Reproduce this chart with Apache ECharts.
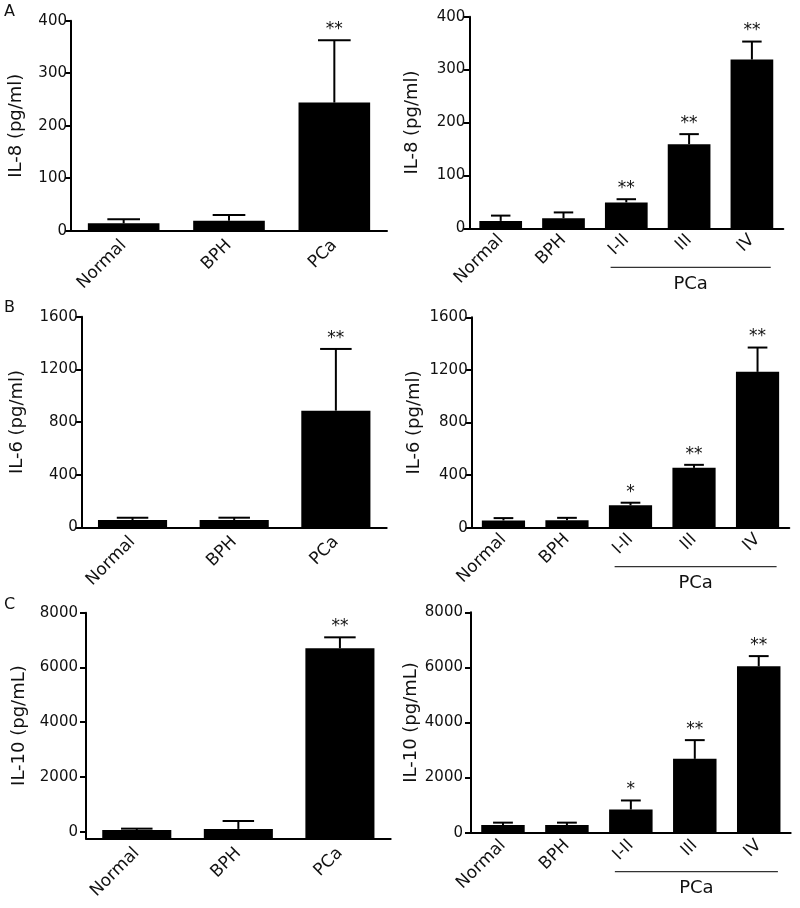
<!DOCTYPE html>
<html><head><meta charset="utf-8">
<script src="https://cdn.jsdelivr.net/npm/echarts@6/dist/echarts.min.js"></script>
<style>html,body{margin:0;padding:0;background:#fff}#c{width:800px;height:908px}</style>
</head><body><div id="c"></div>
<script>
// ---------- data ----------
const catsGroup = ['Normal', 'BPH', 'PCa'];
const catsStage = ['Normal', 'BPH', 'I-II', 'III', 'IV'];

const il8GroupMean = [14, 19, 244];
const il8GroupSem = [8, 11, 119];
const il8GroupSig = ['', '', '**'];
const il8StageMean = [14, 19, 49, 159, 319];
const il8StageSem = [10, 11, 6, 19, 34];
const il8StageSig = ['', '', '**', '**', '**'];

const il6GroupMean = [55, 55, 886];
const il6GroupSem = [18, 18, 469];
const il6GroupSig = ['', '', '**'];
const il6StageMean = [55, 57, 170, 455, 1185];
const il6StageSem = [18, 18, 20, 23, 185];
const il6StageSig = ['', '', '*', '**', '**'];

const il10GroupMean = [62, 100, 6700];
const il10GroupSem = [48, 290, 400];
const il10GroupSig = ['', '', '**'];
const il10StageMean = [275, 275, 840, 2680, 6040];
const il10StageSem = [90, 90, 330, 680, 370];
const il10StageSig = ['', '', '*', '**', '**'];

const ticksIL8 = [0, 100, 200, 300, 400];
const ticksIL6 = [0, 400, 800, 1200, 1600];
const ticksIL10 = [0, 2000, 4000, 6000, 8000];

const nameIL8 = 'IL-8 (pg/ml)';
const nameIL6 = 'IL-6 (pg/ml)';
const nameIL10 = 'IL-10 (pg/mL)';
const groupLabel = 'PCa';
const panelLetters = ['A', 'B', 'C'];

// ---------- layout / style ----------
const FONT = 'DejaVu Sans';
const panels = [
  {cats: catsGroup, mean: il8GroupMean, sem: il8GroupSem, sig: il8GroupSig, ticks: ticksIL8, name: nameIL8,
   grid: {left: 71, top: 20.7, width: 316, height: 210}, yMin: 0, nameGap: 46, labMargin: 4, catMargin: 12},
  {cats: catsStage, mean: il8StageMean, sem: il8StageSem, sig: il8StageSig, ticks: ticksIL8, name: nameIL8,
   grid: {left: 469.3, top: 16.7, width: 314, height: 211.6}, yMin: 0, nameGap: 48, labMargin: 4, catMargin: 9, group: true},
  {cats: catsGroup, mean: il6GroupMean, sem: il6GroupSem, sig: il6GroupSig, ticks: ticksIL6, name: nameIL6,
   grid: {left: 81.7, top: 316.7, width: 305, height: 210.6}, yMin: 0, nameGap: 55, labMargin: 4, catMargin: 12},
  {cats: catsStage, mean: il6StageMean, sem: il6StageSem, sig: il6StageSig, ticks: ticksIL6, name: nameIL6,
   grid: {left: 471.7, top: 317.3, width: 317.6, height: 210.4}, yMin: 0, nameGap: 48, labMargin: 4, catMargin: 9, group: true},
  {cats: catsGroup, mean: il10GroupMean, sem: il10GroupSem, sig: il10GroupSig, ticks: ticksIL10, name: nameIL10,
   grid: {left: 86, top: 612.7, width: 304.7, height: 225.8}, yMin: -250, nameGap: 58, labMargin: 8, catMargin: 12},
  {cats: catsStage, mean: il10StageMean, sem: il10StageSem, sig: il10StageSig, ticks: ticksIL10, name: nameIL10,
   grid: {left: 471, top: 612.3, width: 319.7, height: 220.4}, yMin: 0, nameGap: 51, labMargin: 8, catMargin: 10, group: true}
];

const BAR_FRAC = 0.68;

// error bars (+ optional bar body when the axis starts below zero), drawn through the axis scales
function makeErr(sig, yMin, drawBar) {
  return function (params, api) {
    const i = api.value(0), m = api.value(1), s = api.value(2);
    const p0 = api.coord([i, m]);
    const p1 = api.coord([i, m + s]);
    const band = api.size([1, 0])[0];
    const half = band * 0.155;
    const children = [];
    if (drawBar) {
      const pb = api.coord([i, yMin]);
      const w = band * BAR_FRAC;
      children.push({type: 'rect', shape: {x: pb[0] - w / 2, y: p0[1], width: w, height: pb[1] - p0[1]}, style: {fill: '#000'}});
    }
    children.push({type: 'line', shape: {x1: p0[0], y1: p0[1], x2: p1[0], y2: p1[1]}, style: {stroke: '#000', lineWidth: 2}});
    children.push({type: 'line', shape: {x1: p1[0] - half, y1: p1[1], x2: p1[0] + half, y2: p1[1]}, style: {stroke: '#000', lineWidth: 2}});
    const t = sig[params.dataIndex];
    if (t) {
      children.push({type: 'text', style: {text: t, x: p1[0], y: p1[1] - 2, align: 'center', verticalAlign: 'bottom',
        font: '17px "' + FONT + '"', fill: '#111'}});
    }
    return {type: 'group', children};
  };
}

const grid = [], xAxis = [], yAxis = [], series = [];
panels.forEach((p, k) => {
  grid.push(Object.assign({containLabel: false}, p.grid));
  xAxis.push({
    type: 'category', gridIndex: k, data: p.cats, boundaryGap: true,
    axisLine: {onZero: false, lineStyle: {color: '#000', width: 2}},
    axisTick: {alignWithLabel: true, length: 6, lineStyle: {color: '#000', width: 2}},
    axisLabel: {rotate: 45, margin: p.catMargin, color: '#111', fontFamily: FONT, fontSize: 17, interval: 0}
  });
  yAxis.push({
    type: 'value', gridIndex: k, min: p.yMin, max: p.ticks[p.ticks.length - 1],
    name: p.name, nameLocation: 'middle', nameGap: p.nameGap,
    nameTextStyle: {fontFamily: FONT, fontSize: 18, color: '#111'},
    splitLine: {show: false},
    axisLine: {show: true, lineStyle: {color: '#000', width: 2}},
    axisTick: {show: true, length: 6, lineStyle: {color: '#000', width: 2}, customValues: p.ticks},
    axisLabel: {margin: p.labMargin, color: '#111', fontFamily: FONT, fontSize: 15, customValues: p.ticks,
      formatter: v => String(v)}
  });
  const customBar = p.yMin < 0;
  if (!customBar) {
    series.push({
      type: 'bar', xAxisIndex: k, yAxisIndex: k, data: p.mean, barWidth: (BAR_FRAC * 100) + '%',
      itemStyle: {color: '#000'}, silent: true, animation: false
    });
  }
  series.push({
    type: 'custom', xAxisIndex: k, yAxisIndex: k, renderItem: makeErr(p.sig, p.yMin, customBar), silent: true, animation: false,
    data: p.mean.map((m, i) => [i, m, p.sem[i]]), z: 3
  });
});

const chart = echarts.init(document.getElementById('c'), null, {renderer: 'canvas'});
chart.setOption({backgroundColor: '#fff', animation: false, grid, xAxis, yAxis, series});

// annotations: panel letters and PCa grouping lines
const graphic = [];
const letterTops = [4, 300, 597];
panelLetters.forEach((L, i) => {
  graphic.push({type: 'text', left: 4, top: letterTops[i], style: {text: L, font: '16px "' + FONT + '"', fill: '#111'}});
});
panels.forEach((p, k) => {
  if (!p.group) return;
  const a = chart.convertToPixel({gridIndex: k}, [2, p.yMin]);
  const b = chart.convertToPixel({gridIndex: k}, [p.cats.length - 1, p.yMin]);
  const band = (b[0] - a[0]) / (p.cats.length - 3);
  const y = a[1] + 39;
  const x1 = a[0] - band * 0.25, x2 = b[0] + band * 0.3;
  graphic.push({type: 'line', shape: {x1, y1: y, x2, y2: y}, style: {stroke: '#333', lineWidth: 1.2}});
  graphic.push({type: 'text', x: (x1 + x2) / 2, y: y + 17, style: {text: groupLabel, align: 'center', verticalAlign: 'middle',
    font: '18px "' + FONT + '"', fill: '#111'}});
});
chart.setOption({graphic});
</script>
</body></html>
